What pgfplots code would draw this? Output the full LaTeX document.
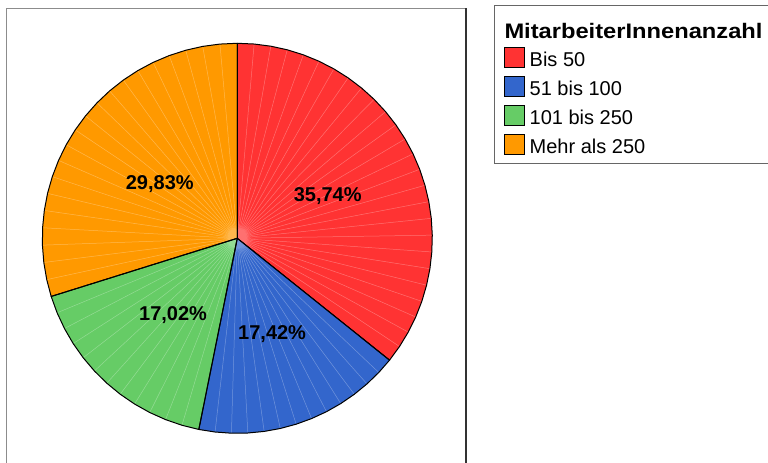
\documentclass[border=0pt]{standalone}
\usepackage{pgfplots}
\pgfplotsset{compat=1.18}
\usepackage{pgfplotstable}
\usepackage{graphicx}
\usepackage{fontspec}
\setmainfont{Liberation Sans}
\definecolor{cRed}{RGB}{255,51,51}
\definecolor{cBlue}{RGB}{51,102,204}
\definecolor{cGreen}{RGB}{102,204,102}
\definecolor{cOrange}{RGB}{255,153,0}

\pgfplotstableread{
idx pct
0 35.74
1 17.42
2 17.02
3 29.83
}\piedata

% build polygon path (#1) and interior white fan lines (#2) for slice from #3 to #4 (clockwise)
\newcommand\mkslice[4]{%
  \pgfmathsetmacro\mysa{#3}%
  \pgfmathsetmacro\myspan{#3-(#4)}%
  \pgfmathtruncatemacro\mynseg{max(1,round(\myspan/5))}%
  \xdef#1{(axis cs:0,0)}%
  \xdef#2{}%
  \foreach \k in {0,...,\mynseg}{%
    \pgfmathsetmacro\ang{\mysa-\k*\myspan/\mynseg}%
    \pgfmathsetmacro\cx{cos(\ang)}%
    \pgfmathsetmacro\cy{sin(\ang)}%
    \xdef#1{#1 -- (axis cs:\cx,\cy)}%
    \ifnum\k>0 \ifnum\k<\mynseg \xdef#2{#2 (axis cs:0,0) -- (axis cs:\cx,\cy)}\fi\fi
  }%
}

\begin{document}
\begin{tikzpicture}
% angles from data
\pgfmathsetmacro\angA{90}
\pgfplotstablegetelem{0}{pct}\of\piedata \pgfmathsetmacro\angB{\angA-3.6*\pgfplotsretval}
\pgfplotstablegetelem{1}{pct}\of\piedata \pgfmathsetmacro\angC{\angB-3.6*\pgfplotsretval}
\pgfplotstablegetelem{2}{pct}\of\piedata \pgfmathsetmacro\angD{\angC-3.6*\pgfplotsretval}
\pgfmathsetmacro\angE{\angA-360}
\pgfmathsetmacro\mA{(\angA+\angB)/2}
\pgfmathsetmacro\mB{(\angB+\angC)/2}
\pgfmathsetmacro\mC{(\angC+\angD)/2}
\pgfmathsetmacro\mD{(\angD+\angE)/2}
\mkslice{\sliceA}{\linesA}{\angA}{\angB}
\mkslice{\sliceB}{\linesB}{\angB}{\angC}
\mkslice{\sliceC}{\linesC}{\angC}{\angD}
\mkslice{\sliceD}{\linesD}{\angD}{\angE}

\begin{axis}[at={(42.3bp,29.7bp)}, anchor=south west, scale only axis,
  width=390bp, height=390bp, xmin=-1, xmax=1, ymin=-1, ymax=1,
  hide axis, clip=false]
\edef\tmp{\noexpand\fill[cRed] \sliceA -- cycle;}\tmp
\edef\tmp{\noexpand\fill[cBlue] \sliceB -- cycle;}\tmp
\edef\tmp{\noexpand\fill[cGreen] \sliceC -- cycle;}\tmp
\edef\tmp{\noexpand\fill[cOrange] \sliceD -- cycle;}\tmp
\edef\tmp{\noexpand\draw[white, opacity=0.3, line width=0.5bp] \linesA \linesB \linesC \linesD;}\tmp
\edef\tmp{\noexpand\draw[black, line width=1bp, line join=round] \sliceA -- cycle;}\tmp
\edef\tmp{\noexpand\draw[black, line width=1bp, line join=round] \sliceB -- cycle;}\tmp
\edef\tmp{\noexpand\draw[black, line width=1bp, line join=round] \sliceC -- cycle;}\tmp
\edef\tmp{\noexpand\draw[black, line width=1bp, line join=round] \sliceD -- cycle;}\tmp
\node[font=\bfseries\fontsize{20bp}{24bp}\selectfont, inner sep=0pt, xshift=2.5bp, yshift=0bp] at (axis cs:{0.5*cos(\mA)},{0.5*sin(\mA)}) {35,74\%};
\node[font=\bfseries\fontsize{20bp}{24bp}\selectfont, inner sep=0pt, xshift=1.5bp, yshift=-4bp] at (axis cs:{0.5*cos(\mB)},{0.5*sin(\mB)}) {17,42\%};
\node[font=\bfseries\fontsize{20bp}{24bp}\selectfont, inner sep=0pt, xshift=1bp, yshift=-4bp] at (axis cs:{0.5*cos(\mC)},{0.5*sin(\mC)}) {17,02\%};
\node[font=\bfseries\fontsize{20bp}{24bp}\selectfont, inner sep=0pt, xshift=1bp, yshift=-4bp] at (axis cs:{0.5*cos(\mD)},{0.5*sin(\mD)}) {29,83\%};
\end{axis}

\begin{scope}[x=1bp,y=1bp]
% left panel frame
\draw[black!45, line width=1.2bp] (6.7,-10) -- (6.7,454.7) -- (466,454.7);
\draw[black!80, line width=1.2bp] (466,454.7) -- (466,-10);

% legend
\draw[black!60, line width=1.2bp] (494.5,299.7) rectangle (800,457.3);
\node[anchor=base west, inner sep=0pt, font=\bfseries\fontsize{21bp}{25bp}\selectfont] at (504.3,424.3) {\scalebox{1.128}[1]{MitarbeiterInnenanzahl}};
\filldraw[fill=cRed, draw=black, line width=1bp] (504.3,395.7) rectangle (524.3,415.7);
\filldraw[fill=cBlue, draw=black, line width=1bp] (504.3,366.5) rectangle (524.3,386.5);
\filldraw[fill=cGreen, draw=black, line width=1bp] (504.3,337.3) rectangle (524.3,357.3);
\filldraw[fill=cOrange, draw=black, line width=1bp] (504.3,308.1) rectangle (524.3,328.1);
\node[anchor=base west, inner sep=0pt, font=\fontsize{20bp}{24bp}\selectfont] at (529.5,396.7) {Bis 50};
\node[anchor=base west, inner sep=0pt, font=\fontsize{20bp}{24bp}\selectfont] at (529.5,367.7) {51 bis 100};
\node[anchor=base west, inner sep=0pt, font=\fontsize{20bp}{24bp}\selectfont] at (529.5,338.3) {101 bis 250};
\node[anchor=base west, inner sep=0pt, font=\fontsize{20bp}{24bp}\selectfont] at (529.5,309.3) {Mehr als 250};

\pgfresetboundingbox
\useasboundingbox (0,0) rectangle (768,463);
\end{scope}
\end{tikzpicture}
\end{document}
